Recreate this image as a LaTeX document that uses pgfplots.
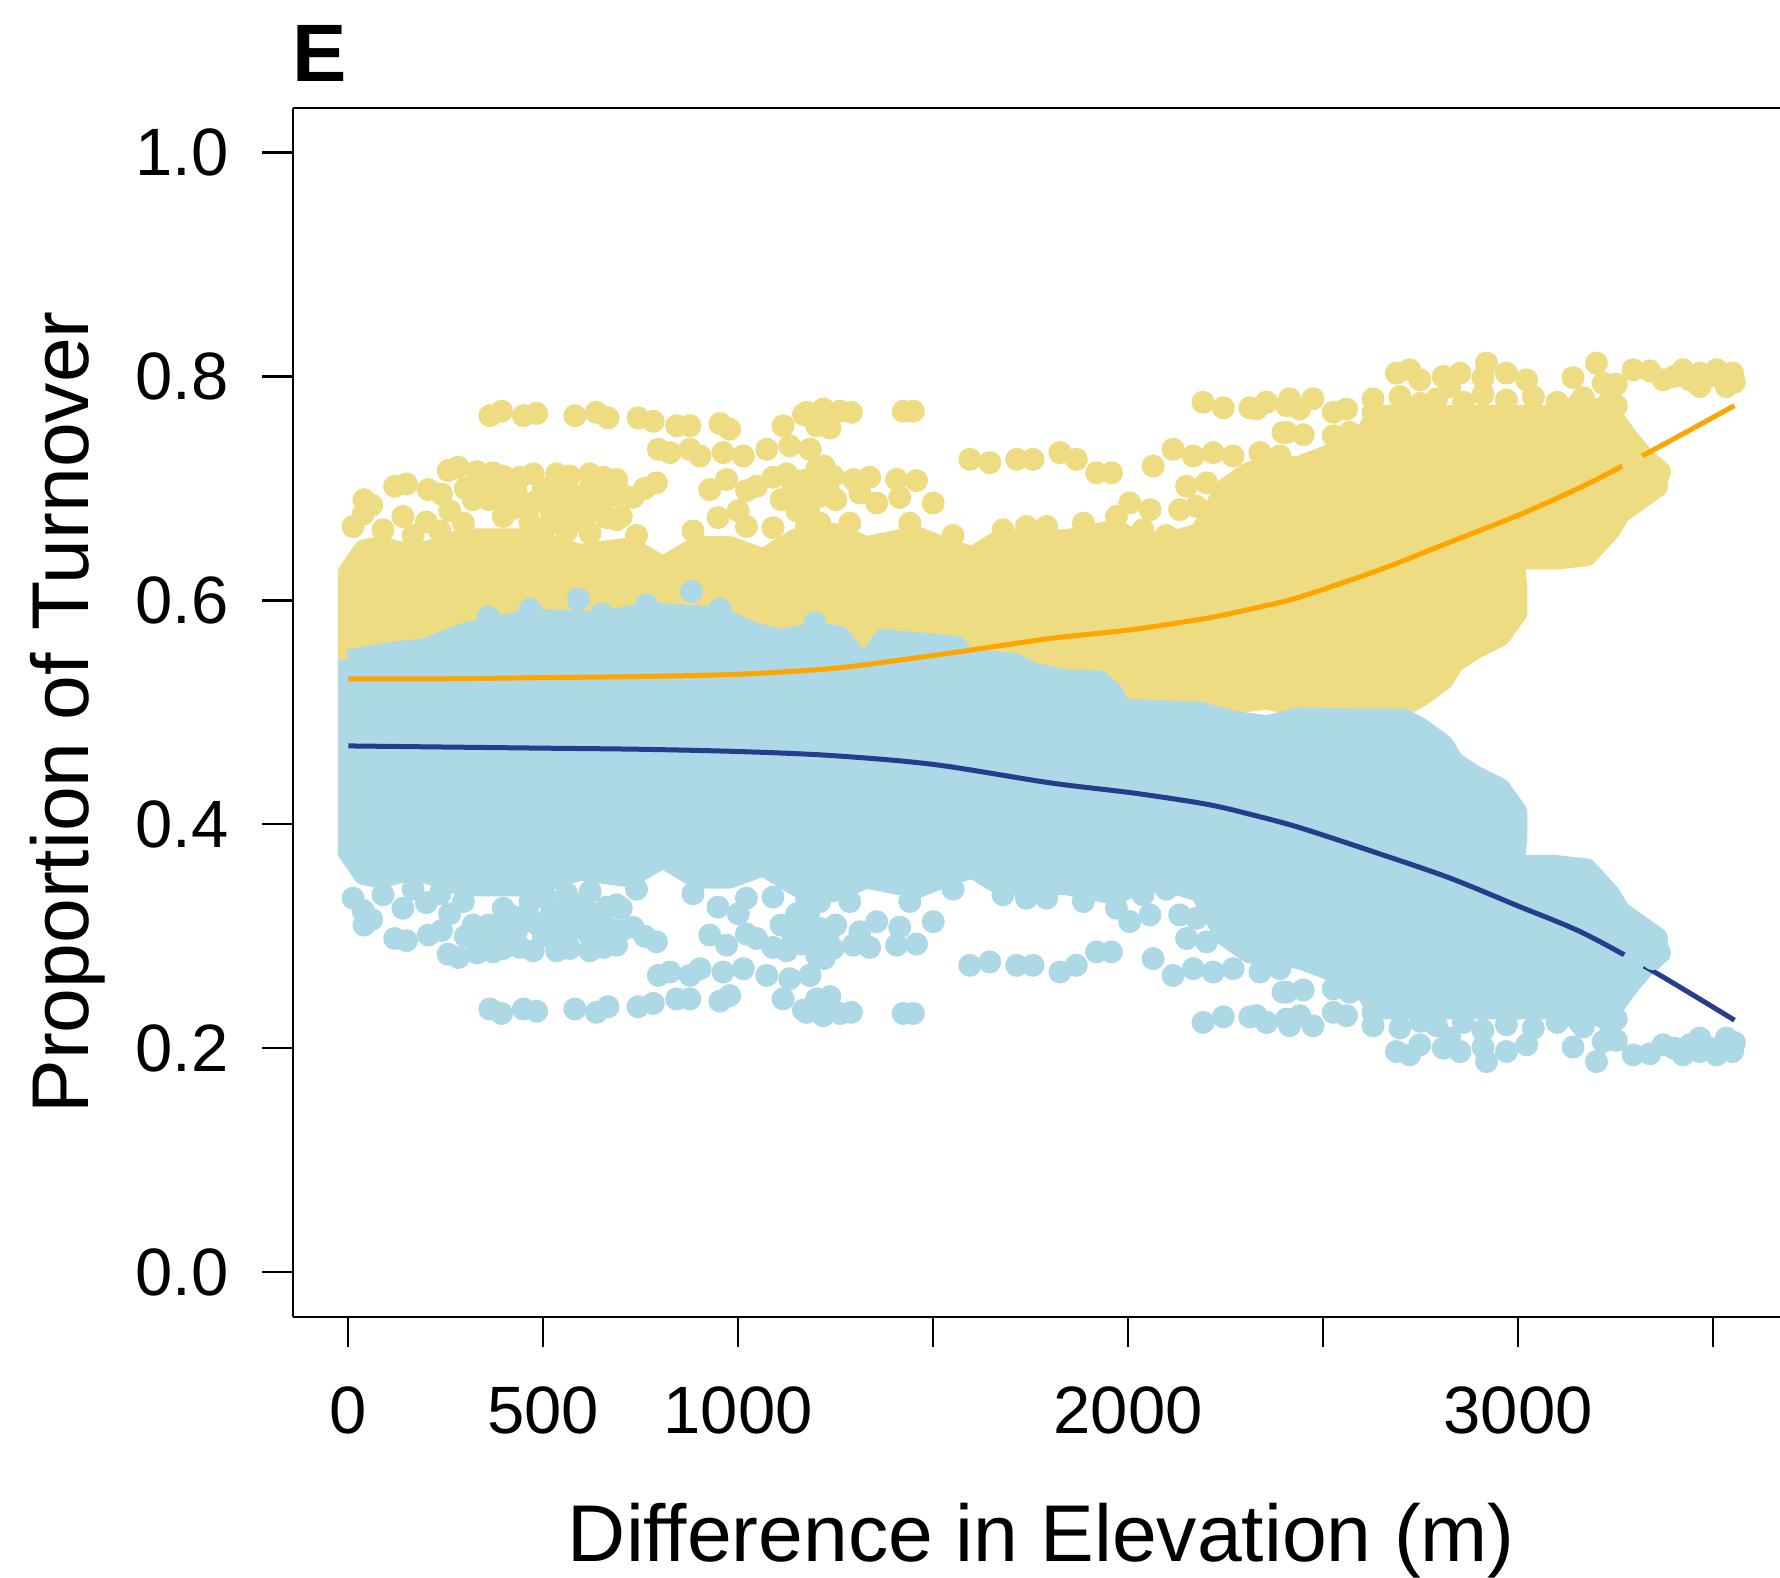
\documentclass[border=0pt]{standalone}
\usepackage{fontspec}
\setmainfont{Liberation Sans}
\usepackage{pgfplots}
\pgfplotsset{compat=1.18}
\definecolor{ylw}{RGB}{238,220,130}
\definecolor{lblue}{RGB}{173,216,230}
\definecolor{orng}{RGB}{255,165,0}
\definecolor{navyb}{RGB}{38,60,140}
\begin{document}
\begin{tikzpicture}
\useasboundingbox (0,0) rectangle (356pt,315.6pt);
\begin{axis}[
  at={(58.58pt,52.23pt)}, anchor=south west,
  scale only axis, width=297.42pt, height=241.8pt,
  xmin=-142.2, xmax=3671.8, ymin=-0.04, ymax=1.04,
  axis lines*=left,
  xtick={0,500,1000,1500,2000,2500,3000,3500},
  xticklabels={0,500,1000,,2000,,3000,},
  ytick={0,0.2,0.4,0.6,0.8,1},
  yticklabels={0.0,0.2,0.4,0.6,0.8,1.0},
  tick align=outside, major tick length=6.1pt,
  axis line style={line width=0.45pt, -},
  every tick/.style={black, line width=0.45pt},
  ticklabel style={font=\fontsize{13.4}{16}\selectfont, inner sep=0pt},
  xticklabel style={anchor=north, yshift=-7.75pt},
  yticklabel style={anchor=east, xshift=-6.58pt},
  /pgf/number format/assume math mode=true,
]
% yellow dense core
\addplot[fill=ylw, draw=ylw, line width=4.2pt, line join=round] coordinates {
(0,0.453) (0,0.625) (40,0.645) (80,0.648) (170,0.640) (295,0.655) (466,0.655) (594,0.641) (722,0.647) (807,0.630) (893,0.648) (978,0.648) (1064,0.637) (1149,0.655) (1243,0.660) (1329,0.648) (1457,0.657) (1543,0.645) (1602,0.639) (1671,0.654) (1842,0.654) (1970,0.663) (2013,0.654) (2098,0.651) (2184,0.660) (2250,0.700) (2312,0.715) (2440,0.720) (2594,0.740) (2637,0.765) (3240,0.765) (3282,0.745) (3330,0.725) (3365,0.715) (3347,0.699) (3262,0.678) (3236,0.663) (3176,0.640) (3100,0.637) (2990,0.637) (2997,0.610) (2997,0.589) (2954,0.568) (2885,0.556) (2834,0.544) (2808,0.529) (2749,0.514) (2706,0.506) (2600,0.506) (2440,0.505) (2355,0.512) (2269,0.508) (2184,0.500) (1979,0.497) (1961,0.483) (1927,0.472) (1842,0.471) (1756,0.465) (1705,0.456) (1585,0.453) (1560,0.441) (1372,0.435) (1329,0.456) (1300,0.450) (1260,0.432) (1200,0.429) (1107,0.435) (1040,0.429) (953,0.415) (765,0.411) (650,0.419) (466,0.417) (300,0.429) (200,0.443) (100,0.447) (0,0.453)
};
% yellow scattered points
\addplot[color=ylw, only marks, mark=*, mark size=2.1pt, mark options={solid, fill=ylw, draw=none}] coordinates {
(363,0.765) (393,0.769) (449,0.765) (483,0.767) (581,0.765) (636,0.768) (666,0.763) (743,0.763) (782,0.760) (842,0.756) (876,0.756) (953,0.758) (978,0.753) (1115,0.756) (1167,0.766) (1218,0.762)
(795,0.735) (825,0.732) (876,0.735) (902,0.729) (961,0.732) (1013,0.729) (1073,0.735) (1132,0.738) (1184,0.735)
(119,0.702) (149,0.704) (205,0.699) (239,0.695) (256,0.716) (282,0.719) (337,0.708) (371,0.714) (346,0.701) (397,0.711) (397,0.693) (431,0.696) (474,0.713) (483,0.689) (534,0.713) (551,0.687) (568,0.711) (585,0.693) (619,0.713) (654,0.710) (688,0.708) (636,0.699) (730,0.692) (671,0.693)
(927,0.699) (970,0.708) (1021,0.698) (1047,0.702) (1089,0.710) (1124,0.713) (1166,0.707) (1201,0.717) (1166,0.693)
(12,0.666) (38,0.677) (89,0.663) (166,0.658) (235,0.662) (295,0.669) (397,0.675) (466,0.669) (508,0.666) (602,0.671) (662,0.674) (688,0.672) (884,0.662) (948,0.674) (1021,0.666) (1089,0.665) (1209,0.669) (739,0.658)
(320,0.690) (330,0.715) (360,0.690) (400,0.700) (420,0.682) (440,0.710) (460,0.680) (500,0.700) (520,0.680) (540,0.695) (560,0.675) (580,0.680) (600,0.690) (620,0.700) (640,0.680) (700,0.695) (760,0.700) (790,0.705) (700,0.675) (560,0.662) (620,0.660) (1110,0.690) (1140,0.700) (1180,0.680) (1230,0.700) (1220,0.720) (1250,0.690) (1150,0.680) (1000,0.680) (40,0.690) (60,0.685) (140,0.675) (200,0.670) (260,0.680) (300,0.700)
(1175,0.768) (1218,0.771) (1261,0.769) (1290,0.768) (1423,0.769) (1449,0.769) (2192,0.777) (2244,0.772) (2312,0.772) (2355,0.777) (2414,0.780)
(1201,0.756) (1235,0.754) (1184,0.735) (2406,0.750)
(1594,0.726) (1645,0.723) (1714,0.726) (1756,0.726) (1825,0.732) (1867,0.726) (1919,0.714) (1957,0.714) (2064,0.720) (2115,0.735) (2167,0.729) (2218,0.732) (2269,0.729) (2338,0.732) (2389,0.729)
(1192,0.710) (1243,0.711) (1295,0.708) (1337,0.710) (1406,0.708) (1457,0.707) (1414,0.692) (1500,0.687) (1355,0.687) (1312,0.696) (1209,0.693)
(2004,0.687) (2056,0.681) (2132,0.681) (2175,0.684) (2150,0.702) (2201,0.705)
(1175,0.666) (1286,0.669) (1440,0.669) (1551,0.658) (1679,0.663) (1739,0.666) (1791,0.666) (1885,0.669) (1970,0.675) (2038,0.663) (2098,0.658) (2226,0.661) (2269,0.655) (2338,0.652) (2389,0.649)
(2688,0.803) (2722,0.806) (2748,0.797) (2808,0.800) (2851,0.803) (2825,0.791) (2919,0.812) (2910,0.799) (2970,0.803) (3022,0.797) (3141,0.799) (3201,0.812) (3218,0.794) (3252,0.793) (3295,0.806) (3338,0.805) (3372,0.797) (3423,0.806) (3466,0.803) (3466,0.791) (3509,0.806) (3534,0.791) (3526,0.800) (3555,0.795) (3550,0.803) (3400,0.800) (3440,0.797) (3490,0.800)
(2329,0.771) (2355,0.777) (2406,0.774) (2440,0.771) (2474,0.780) (2526,0.768) (2560,0.771) (2628,0.780) (2628,0.768) (2697,0.782) (2791,0.780) (2910,0.784) (3039,0.782) (3167,0.781) (3235,0.778) (2750,0.776) (2860,0.777) (2970,0.779) (3100,0.777)
(2397,0.750) (2449,0.748) (2526,0.747) (2568,0.750) (2637,0.744) (2680,0.753) (2731,0.741)
(3107,0.774) (3158,0.777) (3209,0.771) (3252,0.774) (3132,0.747) (3184,0.750) (3252,0.747) (3269,0.741) (3295,0.723) (3346,0.720) (3355,0.702)
};
% blue dense core
\addplot[fill=lblue, draw=lblue, line width=4.2pt, line join=round] coordinates {
(0,0.547) (0,0.375) (40,0.355) (80,0.352) (170,0.360) (295,0.345) (466,0.345) (594,0.359) (722,0.353) (807,0.370) (893,0.352) (978,0.352) (1064,0.363) (1149,0.345) (1243,0.340) (1329,0.352) (1457,0.343) (1543,0.355) (1602,0.361) (1671,0.346) (1842,0.346) (1970,0.337) (2013,0.346) (2098,0.349) (2184,0.340) (2250,0.300) (2312,0.285) (2440,0.280) (2594,0.260) (2637,0.235) (3240,0.235) (3282,0.255) (3330,0.275) (3365,0.285) (3347,0.301) (3262,0.322) (3236,0.337) (3176,0.360) (3100,0.363) (2990,0.363) (2997,0.390) (2997,0.411) (2954,0.432) (2885,0.444) (2834,0.456) (2808,0.471) (2749,0.486) (2706,0.494) (2600,0.494) (2440,0.495) (2355,0.488) (2269,0.492) (2184,0.500) (1979,0.503) (1961,0.517) (1927,0.528) (1842,0.529) (1756,0.535) (1705,0.544) (1585,0.547) (1560,0.559) (1372,0.565) (1329,0.544) (1300,0.550) (1260,0.568) (1200,0.571) (1107,0.565) (1040,0.571) (953,0.585) (765,0.589) (650,0.581) (466,0.583) (300,0.571) (200,0.557) (100,0.553) (0,0.547)
};
% blue scattered points
\addplot[color=lblue, only marks, mark=*, mark size=2.1pt, mark options={solid, fill=lblue, draw=none}] coordinates {
(363,0.235) (393,0.231) (449,0.235) (483,0.233) (581,0.235) (636,0.232) (666,0.237) (743,0.237) (782,0.240) (842,0.244) (876,0.244) (953,0.242) (978,0.247) (1115,0.244) (1167,0.234) (1218,0.238)
(795,0.265) (825,0.268) (876,0.265) (902,0.271) (961,0.268) (1013,0.271) (1073,0.265) (1132,0.262) (1184,0.265)
(119,0.298) (149,0.296) (205,0.301) (239,0.305) (256,0.284) (282,0.281) (337,0.292) (371,0.286) (346,0.299) (397,0.289) (397,0.307) (431,0.304) (474,0.287) (483,0.311) (534,0.287) (551,0.313) (568,0.289) (585,0.307) (619,0.287) (654,0.290) (688,0.292) (636,0.301) (730,0.308) (671,0.307)
(927,0.301) (970,0.292) (1021,0.302) (1047,0.298) (1089,0.290) (1124,0.287) (1166,0.293) (1201,0.283) (1166,0.307)
(12,0.334) (38,0.323) (89,0.337) (166,0.342) (235,0.338) (295,0.331) (397,0.325) (466,0.331) (508,0.334) (602,0.329) (662,0.326) (688,0.328) (884,0.338) (948,0.326) (1021,0.334) (1089,0.335) (1209,0.331) (739,0.342)
(320,0.310) (330,0.285) (360,0.310) (400,0.300) (420,0.318) (440,0.290) (460,0.320) (500,0.300) (520,0.320) (540,0.305) (560,0.325) (580,0.320) (600,0.310) (620,0.300) (640,0.320) (700,0.305) (760,0.300) (790,0.295) (700,0.325) (560,0.338) (620,0.340) (1110,0.310) (1140,0.300) (1180,0.320) (1230,0.300) (1220,0.280) (1250,0.310) (1150,0.320) (1000,0.320) (40,0.310) (60,0.315) (140,0.325) (200,0.330) (260,0.320) (300,0.300)
(1175,0.232) (1218,0.229) (1261,0.231) (1290,0.232) (1423,0.231) (1449,0.231) (2192,0.223) (2244,0.228) (2312,0.228) (2355,0.223) (2414,0.220)
(1201,0.244) (1235,0.246) (1184,0.265) (2406,0.250)
(1594,0.274) (1645,0.277) (1714,0.274) (1756,0.274) (1825,0.268) (1867,0.274) (1919,0.286) (1957,0.286) (2064,0.280) (2115,0.265) (2167,0.271) (2218,0.268) (2269,0.271) (2338,0.268) (2389,0.271)
(1192,0.290) (1243,0.289) (1295,0.292) (1337,0.290) (1406,0.292) (1457,0.293) (1414,0.308) (1500,0.313) (1355,0.313) (1312,0.304) (1209,0.307)
(2004,0.313) (2056,0.319) (2132,0.319) (2175,0.316) (2150,0.298) (2201,0.295)
(1175,0.334) (1286,0.331) (1440,0.331) (1551,0.342) (1679,0.337) (1739,0.334) (1791,0.334) (1885,0.331) (1970,0.325) (2038,0.337) (2098,0.342) (2226,0.339) (2269,0.345) (2338,0.348) (2389,0.351)
(2688,0.197) (2722,0.194) (2748,0.203) (2808,0.200) (2851,0.197) (2825,0.209) (2919,0.188) (2910,0.201) (2970,0.197) (3022,0.203) (3141,0.201) (3201,0.188) (3218,0.206) (3252,0.207) (3295,0.194) (3338,0.195) (3372,0.203) (3423,0.194) (3466,0.197) (3466,0.209) (3509,0.194) (3534,0.209) (3526,0.200) (3555,0.205) (3550,0.197) (3400,0.200) (3440,0.203) (3490,0.200)
(2329,0.229) (2355,0.223) (2406,0.226) (2440,0.229) (2474,0.220) (2526,0.232) (2560,0.229) (2628,0.220) (2628,0.232) (2697,0.218) (2791,0.220) (2910,0.216) (3039,0.218) (3167,0.219) (3235,0.222) (2750,0.224) (2860,0.223) (2970,0.221) (3100,0.223)
(2397,0.250) (2449,0.252) (2526,0.253) (2568,0.250) (2637,0.256) (2680,0.247) (2731,0.259)
(3107,0.226) (3158,0.223) (3209,0.229) (3252,0.226) (3132,0.253) (3184,0.250) (3252,0.253) (3269,0.259) (3295,0.277) (3346,0.280) (3355,0.298)
(359,0.585) (466,0.592) (590,0.601) (880,0.608) (1196,0.580) (650,0.588) (765,0.596) (953,0.592)
};
% smoothers
\addplot[orng, line width=1pt, smooth] coordinates {
(0,0.530) (250,0.530) (500,0.531) (750,0.532) (1000,0.534) (1235,0.539) (1400,0.546) (1585,0.555) (1800,0.566) (2012,0.574) (2200,0.584) (2311,0.592) (2440,0.603) (2650,0.628) (2825,0.652) (3000,0.676) (3166,0.702) (3350,0.735) (3555,0.774)
};
\addplot[navyb, line width=1pt, smooth] coordinates {
(0,0.470) (250,0.469) (500,0.468) (750,0.467) (1000,0.465) (1235,0.4615) (1500,0.4535) (1800,0.437) (2012,0.428) (2200,0.418) (2312,0.409) (2440,0.397) (2650,0.373) (2825,0.352) (3000,0.327) (3166,0.303) (3350,0.268) (3555,0.225)
};
\draw[line width=0.45pt] (rel axis cs:0,1) -- (rel axis cs:1,1);
\end{axis}
\node[anchor=base west, inner sep=0pt, font=\bfseries\fontsize{16.3}{18}\selectfont] at (58.3pt,299.25pt) {E};
\node[rotate=90, anchor=base, inner sep=0pt, font=\fontsize{16.1}{18}\selectfont] at (17.67pt,173.1pt) {Proportion of Turnover};
\node[anchor=base, inner sep=0pt, font=\fontsize{16.1}{18}\selectfont] at (208.28pt,3.27pt) {Difference in Elevation (m)};
\end{tikzpicture}
\end{document}
